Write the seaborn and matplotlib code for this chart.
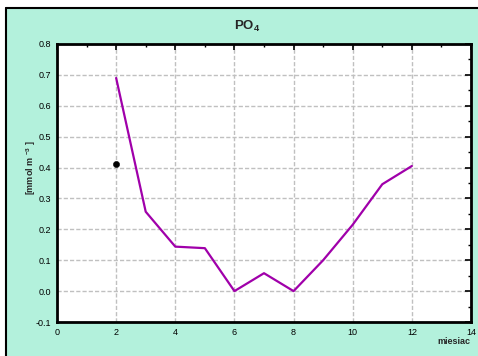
import matplotlib
matplotlib.use("Agg")
import matplotlib.pyplot as plt
import matplotlib.patches as mpatches
from matplotlib.lines import Line2D
from matplotlib.ticker import MultipleLocator
import seaborn as sns
import pandas as pd

# Monthly PO4 concentration
months = [2, 3, 4, 5, 6, 7, 8, 9, 10, 11, 12]
po4 = [0.69, 0.257, 0.144, 0.139, 0.0, 0.058, 0.0, 0.10, 0.215, 0.346, 0.405]

# Single observation
obs_month = [2]
obs_value = [0.41]

xticks = [0, 2, 4, 6, 8, 10, 12, 14]
yticks = [-0.1, 0.0, 0.1, 0.2, 0.3, 0.4, 0.5, 0.6, 0.7, 0.8]

sns.set_style("white")
plt.rcParams["font.family"] = ["Liberation Sans", "DejaVu Sans"]
plt.rcParams["mathtext.fontset"] = "custom"
plt.rcParams["mathtext.rm"] = "Liberation Sans"
plt.rcParams["mathtext.bf"] = "Liberation Sans:bold"

fig = plt.figure(figsize=(4.78, 3.56), dpi=100)
fig.patch.set_facecolor("white")

# mint panel, bordered in black along its top and left edges
x0, y1 = 6 / 478, 1 - 8 / 356
fig.patches.append(mpatches.Rectangle((x0, 0), 1 - x0, y1, transform=fig.transFigure,
                                      facecolor="#b3f1dc", edgecolor="none", zorder=-10))
fig.lines.append(Line2D([x0, 1], [y1, y1], transform=fig.transFigure,
                        color="black", linewidth=1.5, zorder=-5))
fig.lines.append(Line2D([x0, x0], [0, y1], transform=fig.transFigure,
                        color="black", linewidth=1.5, zorder=-5))

ax = fig.add_axes([57 / 478, 1 - 322 / 356, (471 - 57) / 478, (322 - 44) / 356])
ax.set_zorder(5)
ax.set_facecolor("white")

df = pd.DataFrame({"miesiac": months, "PO4": po4})
sns.lineplot(data=df, x="miesiac", y="PO4", ax=ax, color="#a000aa", linewidth=1.6, zorder=3)
sns.scatterplot(x=obs_month, y=obs_value, ax=ax, color="black", s=20, marker="o",
                edgecolor="black", zorder=4)

ax.set_xlim(0, 14)
ax.set_ylim(-0.1, 0.8)
ax.set_xticks(xticks)
ax.set_xticklabels([str(v) for v in xticks])
ax.set_yticks(yticks)
ax.set_yticklabels([f"{v:.1f}" for v in yticks])
ax.xaxis.set_minor_locator(MultipleLocator(1))
ax.yaxis.set_minor_locator(MultipleLocator(0.05))

ax.tick_params(axis="both", which="both", direction="in", top=True, right=True,
               labelsize=6.5, pad=4, colors="black")
ax.tick_params(which="major", length=4, width=1.2)
ax.tick_params(which="minor", length=2.5, width=1.0)

ax.grid(True, which="major", linestyle=(0, (3, 1.5)), color="#c0c0c0", linewidth=1.0)
for s in ax.spines.values():
    s.set_visible(True)
    s.set_color("black")
    s.set_linewidth(2)

ax.set_xlabel("")
ax.set_ylabel("")
fig.text(247 / 478, 1 - 26 / 356, r"PO$_\mathbf{4}$", ha="center", va="center",
         fontsize=9.5, fontweight="bold")
fig.text(31 / 478, 1 - 168 / 356, r"[mmol m $^{\mathbf{-3}}$ ]", ha="center", va="center",
         rotation=90, fontsize=6.5, fontweight="bold")
fig.text(470 / 478, 1 - 342 / 356, "miesiac", ha="right", va="center",
         fontsize=6.5, fontweight="bold")

fig.savefig("out.png", dpi=100, facecolor=fig.get_facecolor())
